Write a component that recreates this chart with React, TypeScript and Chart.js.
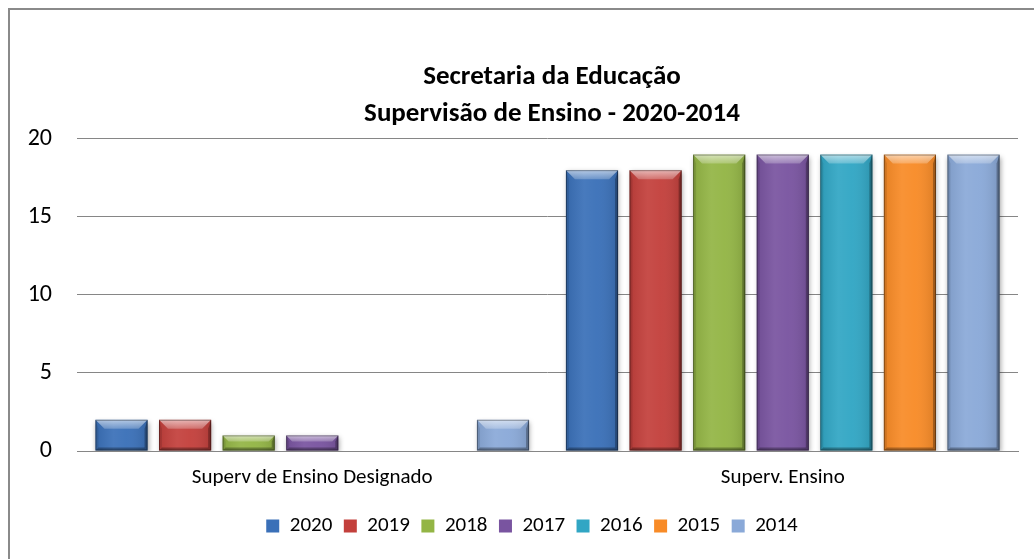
import React, { useEffect, useRef } from 'react';
import { Chart, registerables } from 'chart.js';

Chart.register(...registerables);

const categories = ['Superv de Ensino Designado', 'Superv. Ensino'];
const years = ['2020', '2019', '2018', '2017', '2016', '2015', '2014'];
const values2020 = [2, 18];
const values2019 = [2, 18];
const values2018 = [1, 19];
const values2017 = [1, 19];
const values2016 = [0, 19];
const values2015 = [0, 19];
const values2014 = [2, 19];
const seriesValues = [values2020, values2019, values2018, values2017, values2016, values2015, values2014];
const seriesColors = ['#3a70b8', '#c3403c', '#93b545', '#7954a0', '#31a6c4', '#f88b27', '#8aa9d8'];
const titleLines = ['Secretaria da Educação', 'Supervisão de Ensino - 2020-2014'];
const yMin = 0;
const yMax = 20;
const yStep = 5;

const FONT = 'Carlito, Lato, "Open Sans", sans-serif';
const LEGEND_SHIFT = 36;
const TITLE_SHIFT = 76;

const bevelPlugin = {
  id: 'bevel',
  afterUpdate(chart: any) {
    const legend = chart.legend;
    if (legend && legend.options.display) {
      legend.left += LEGEND_SHIFT;
      legend.width = legend.right - legend.left;
      if (typeof legend.adjustHitBoxes === 'function') legend.adjustHitBoxes();
    }
    const title = chart.titleBlock;
    if (title && title.options.display) {
      title.left += TITLE_SHIFT;
      title.width = title.right - title.left;
    }
  },
  beforeDatasetsDraw(chart: any) {
    const ctx = chart.ctx;
    ctx.save();
    ctx.shadowColor = 'rgba(0,0,0,0.35)';
    ctx.shadowBlur = 5;
    ctx.shadowOffsetX = 1;
    ctx.shadowOffsetY = 2;
  },
  afterDatasetsDraw(chart: any) {
    const ctx = chart.ctx;
    ctx.restore();
    chart.data.datasets.forEach((_ds: any, di: number) => {
      const meta = chart.getDatasetMeta(di);
      if (meta.hidden) return;
      meta.data.forEach((bar: any) => {
        const { x, y, base, width } = bar.getProps(['x', 'y', 'base', 'width'], true);
        const h = base - y;
        if (h <= 0.5) return;
        const l = x - width / 2;
        const r = x + width / 2;
        const t = y;
        const bt = base;
        const b = Math.min(9, h / 2.5, width / 4);
        const s = Math.min(3, h / 2);
        ctx.save();
        const g = ctx.createLinearGradient(l, 0, r, 0);
        g.addColorStop(0, 'rgba(0,0,0,0.08)');
        g.addColorStop(0.35, 'rgba(255,255,255,0.07)');
        g.addColorStop(0.6, 'rgba(255,255,255,0.04)');
        g.addColorStop(1, 'rgba(0,0,0,0.12)');
        ctx.fillStyle = g;
        ctx.fillRect(l, t, width, h);
        const tg = ctx.createLinearGradient(0, t, 0, t + b);
        tg.addColorStop(0, 'rgba(255,255,255,0.6)');
        tg.addColorStop(1, 'rgba(255,255,255,0.22)');
        ctx.fillStyle = tg;
        ctx.beginPath();
        ctx.moveTo(l, t);
        ctx.lineTo(r, t);
        ctx.lineTo(r - b, t + b);
        ctx.lineTo(l + b, t + b);
        ctx.closePath();
        ctx.fill();
        ctx.fillStyle = 'rgba(0,0,0,0.10)';
        ctx.beginPath();
        ctx.moveTo(l, t);
        ctx.lineTo(l + s, t + b);
        ctx.lineTo(l + s, bt - s);
        ctx.lineTo(l, bt);
        ctx.closePath();
        ctx.fill();
        ctx.fillStyle = 'rgba(0,0,0,0.28)';
        ctx.beginPath();
        ctx.moveTo(r, t);
        ctx.lineTo(r - s, t + b);
        ctx.lineTo(r - s, bt - s);
        ctx.lineTo(r, bt);
        ctx.closePath();
        ctx.fill();
        ctx.fillStyle = 'rgba(0,0,0,0.3)';
        ctx.beginPath();
        ctx.moveTo(l, bt);
        ctx.lineTo(l + s, bt - s);
        ctx.lineTo(r - s, bt - s);
        ctx.lineTo(r, bt);
        ctx.closePath();
        ctx.fill();
        ctx.strokeStyle = 'rgba(0,0,0,0.35)';
        ctx.lineWidth = 1;
        ctx.strokeRect(l + 0.5, t + 0.5, width - 1, h - 1);
        ctx.restore();
      });
    });
  },
  afterDraw(chart: any) {
    const legend = chart.legend;
    if (!legend || !legend.legendHitBoxes) return;
    const ctx = chart.ctx;
    const opts = legend.options.labels;
    const bw = opts.boxWidth;
    const bh = opts.boxHeight;
    const fs = opts.font.size;
    legend.legendHitBoxes.forEach((hb: any) => {
      const x0 = hb.left;
      const y0 = hb.top + Math.max((fs - bh) / 2, 0);
      const cx = x0 + bw / 2;
      const cy = y0 + bh / 2;
      ctx.save();
      ctx.fillStyle = 'rgba(255,255,255,0.4)';
      ctx.beginPath();
      ctx.moveTo(x0, y0);
      ctx.lineTo(x0 + bw, y0);
      ctx.lineTo(cx, cy);
      ctx.closePath();
      ctx.fill();
      ctx.fillStyle = 'rgba(0,0,0,0.3)';
      ctx.beginPath();
      ctx.moveTo(x0 + bw, y0);
      ctx.lineTo(x0 + bw, y0 + bh);
      ctx.lineTo(cx, cy);
      ctx.closePath();
      ctx.fill();
      ctx.fillStyle = 'rgba(0,0,0,0.35)';
      ctx.beginPath();
      ctx.moveTo(x0, y0 + bh);
      ctx.lineTo(x0 + bw, y0 + bh);
      ctx.lineTo(cx, cy);
      ctx.closePath();
      ctx.fill();
      ctx.restore();
    });
  },
};

export default function App() {
  const canvasRef = useRef<HTMLCanvasElement | null>(null);

  useEffect(() => {
    if (!canvasRef.current) return;
    const chart = new Chart(canvasRef.current, {
      type: 'bar',
      data: {
        labels: categories,
        datasets: years.map((yr, i) => ({
          label: yr,
          data: seriesValues[i],
          backgroundColor: seriesColors[i],
          borderWidth: 0,
          categoryPercentage: 0.946,
          barPercentage: 0.82,
        })),
      },
      options: {
        animation: false,
        responsive: false,
        maintainAspectRatio: false,
        layout: { padding: { left: 0, right: 16, top: 0, bottom: 12.5 } },
        scales: {
          x: {
            grid: { display: false, drawTicks: false },
            border: { display: true, color: '#868686', width: 1 },
            ticks: { color: '#000', font: { family: FONT, size: 21 }, padding: 14.4, maxRotation: 0 },
            afterFit: (scale: any) => { scale.height = 53; },
          },
          y: {
            min: yMin,
            max: yMax,
            ticks: { stepSize: yStep, color: '#000', font: { family: FONT, size: 24 }, padding: 25 },
            grid: { color: '#868686', lineWidth: 1, drawTicks: false },
            border: { display: false },
            afterFit: (scale: any) => { scale.width = 67; },
          },
        },
        plugins: {
          title: {
            display: true,
            text: titleLines,
            color: '#000',
            font: { family: FONT, size: 27, weight: 'bold', lineHeight: 1.37 },
            padding: { top: 48.5, bottom: 6.5 },
          },
          legend: {
            display: true,
            position: 'bottom',
            labels: {
              color: '#000',
              font: { family: FONT, size: 21 },
              boxWidth: 13,
              boxHeight: 13,
              padding: 11.5,
            },
          },
          tooltip: { enabled: false },
        },
      },
      plugins: [bevelPlugin],
    } as any);
    return () => chart.destroy();
  }, []);

  return (
    <div
      style={{
        position: 'fixed',
        left: 8,
        top: 8,
        width: 1026,
        height: 551,
        borderLeft: '2px solid #8a8a8a',
        borderTop: '2px solid #8a8a8a',
        background: '#fff',
        overflow: 'hidden',
      }}
    >
      <canvas ref={canvasRef} width={1024} height={549} style={{ display: 'block' }} />
    </div>
  );
}
